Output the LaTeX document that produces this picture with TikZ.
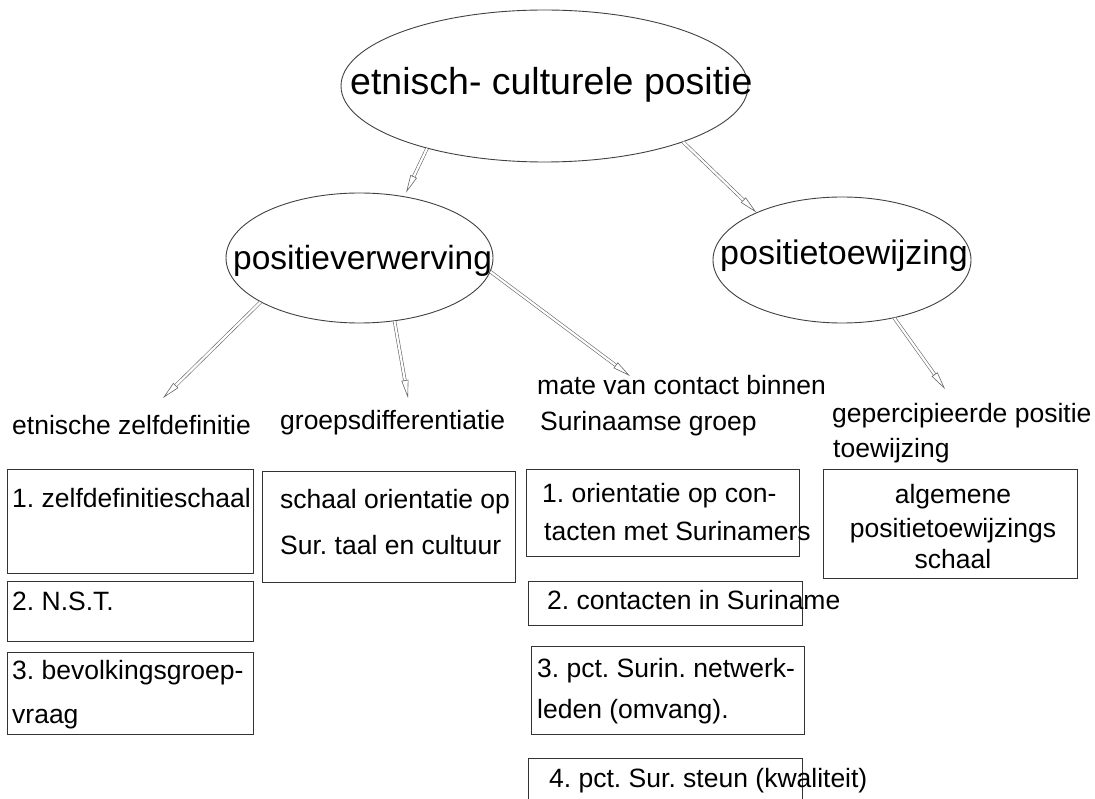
\documentclass[tikz,border=0pt]{standalone}
\usepackage{fontspec}
\setmainfont{Liberation Sans}
\usetikzlibrary{shapes.geometric,arrows.meta}
\frenchspacing

\tikzset{
  blob/.style={draw=black!75, line width=0.9pt, ellipse, inner sep=0pt},
  vak/.style={draw=black!80, line width=0.9pt, rectangle, inner sep=0pt},
  kop/.style={anchor=base west, inner sep=0pt},
  tekst/.style={anchor=base west, inner sep=0pt, font=\fontsize{26.5}{30}\selectfont},
  pijl/.style={draw=black!60, line width=0.6pt, double=white, double distance=2.2pt,
    -{Triangle[open,length=18pt,width=7pt]}}
}

\begin{document}
\begin{tikzpicture}[x=1pt,y=-1pt]
        \clip (0,0) rectangle (1095,799);
        % ellipses
        \node[blob, minimum width=407pt, minimum height=152pt] (top) at (544.5,86) {};
        \node[blob, minimum width=267pt, minimum height=130pt] (links) at (359.5,258) {};
        \node[blob, minimum width=258pt, minimum height=126pt] (rechts) at (842,260) {};
        \node[kop, font=\fontsize{37.5}{40}\selectfont] (toptxt) at (350,95) {etnisch- culturele positie};
        \node[kop, font=\fontsize{33.5}{36}\selectfont] (linkstxt) at (233,270) {positieverwerving};
        \node[kop, font=\fontsize{34}{36}\selectfont] (rechtstxt) at (720,265) {positietoewijzing};
        % labels
        \node[tekst] (etn) at (12,434) {etnische zelfdefinitie};
        \node[tekst] (grp) at (280,429) {groepsdifferentiatie};
        \node[tekst] (mate1) at (537,395) {mate van contact binnen};
        \node[tekst] (mate2) at (540,430) {Surinaamse groep};
        \node[tekst] (perc1) at (832,422) {gepercipieerde positie};
        \node[tekst] (perc2) at (833,457) {toewijzing};
        % boxes
        \node[vak, minimum width=246pt, minimum height=104pt] (zd1) at (130,521) {};
        \node[vak, minimum width=246pt, minimum height=60pt] (zd2) at (130,611) {};
        \node[vak, minimum width=246pt, minimum height=82pt] (zd3) at (130,693) {};
        \node[vak, minimum width=253pt, minimum height=111pt] (gd) at (388.5,526.5) {};
        \node[vak, minimum width=273pt, minimum height=87pt] (mc1) at (662.5,512.5) {};
        \node[vak, minimum width=274pt, minimum height=44pt] (mc2) at (665,603) {};
        \node[vak, minimum width=273pt, minimum height=88pt] (mc3) at (667.5,690) {};
        \node[vak, minimum width=274pt, minimum height=60pt] (mc4) at (665,788) {};
        \node[vak, minimum width=254pt, minimum height=109pt] (pt) at (950,523.5) {};
        % box texts
        \node[tekst] (zd1a) at (12,507) {1. zelfdefinitieschaal};
        \node[tekst] (zd2a) at (12,610) {2. N.S.T.};
        \node[tekst] (zd3a) at (12,679) {3. bevolkingsgroep-};
        \node[tekst] (zd3b) at (12,723) {vraag};
        \node[tekst] (gda) at (280,508) {schaal orientatie op};
        \node[tekst] (gdb) at (280,554) {Sur. taal en cultuur};
        \node[tekst] (mc1a) at (542,502) {1. orientatie op con-};
        \node[tekst] (mc1b) at (544,540) {tacten met Surinamers};
        \node[tekst] (mc2a) at (547,609) {2. contacten in Suriname};
        \node[tekst] (mc3a) at (537,677) {3. pct. Surin. netwerk-};
        \node[tekst] (mc3b) at (537,718) {leden (omvang).};
        \node[tekst] (mc4a) at (549,787) {4. pct. Sur. steun (kwaliteit)};
        \node[tekst, anchor=base] (pta) at (953,503) {algemene};
        \node[tekst, anchor=base] (ptb) at (953,537) {positietoewijzings};
        \node[tekst, anchor=base] (ptc) at (953,568) {schaal};
        % arrows
        \coordinate (e1) at (163,398);
        \coordinate (e2) at (408,398);
        \coordinate (e3) at (630,376);
        \coordinate (e4) at (945,389);
        \draw[pijl, shorten >=4pt] (top.208) -- (links.54);
        \draw[pijl] (top.338) -- (rechts.151);
        \draw[pijl] (links.204) -- (e1);
        \draw[pijl] (links.299) -- (e2);
        \draw[pijl] (links.354) -- (e3);
        \draw[pijl] (rechts.312) -- (e4);
      \end{tikzpicture}
\end{document}
